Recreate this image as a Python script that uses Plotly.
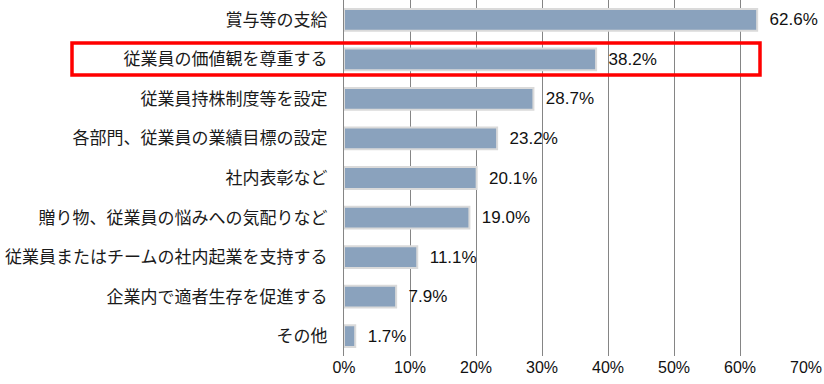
import plotly.graph_objects as go

categories = [
    "賞与等の支給",
    "従業員の価値観を尊重する",
    "従業員持株制度等を設定",
    "各部門、従業員の業績目標の設定",
    "社内表彰など",
    "贈り物、従業員の悩みへの気配りなど",
    "従業員またはチームの社内起業を支持する",
    "企業内で適者生存を促進する",
    "その他",
]
values = [62.6, 38.2, 28.7, 23.2, 20.1, 19.0, 11.1, 7.9, 1.7]
tick_vals = [0, 10, 20, 30, 40, 50, 60, 70]
tick_text = ["0%", "10%", "20%", "30%", "40%", "50%", "60%", "70%"]

fig = go.Figure(
    go.Bar(
        x=values,
        y=categories,
        orientation="h",
        marker=dict(color="#8AA2BD", line=dict(color="#DADADA", width=2)),
        width=0.55,
        text=[f"  {v:.1f}%" for v in values],
        textposition="outside",
        textfont=dict(family="Liberation Sans, Arial, sans-serif", size=17, color="#111111"),
        cliponaxis=False,
        hoverinfo="skip",
    )
)

fig.add_shape(
    type="rect",
    xref="paper", yref="paper",
    x0=(72 - 344) / 462, x1=(760 - 344) / 462,
    y0=1 - 75 / 356, y1=1 - 43 / 356,
    line=dict(color="#FF0000", width=3.5),
    fillcolor="rgba(0,0,0,0)",
)

fig.update_layout(
    width=824, height=384,
    margin=dict(l=344, r=18, t=0, b=28),
    plot_bgcolor="white", paper_bgcolor="white",
    showlegend=False,
    bargap=0.45,
)
fig.update_xaxes(
    range=[0, 70],
    tickvals=tick_vals, ticktext=tick_text,
    showgrid=True, gridcolor="#858585", gridwidth=1,
    zeroline=False,
    showline=False,
    tickfont=dict(family="Liberation Sans, Arial, sans-serif", size=16, color="#111111"),
    fixedrange=True,
)
fig.update_yaxes(
    autorange="reversed",
    showline=True, linecolor="#858585", linewidth=1,
    showgrid=False,
    ticks="",
    ticklabelstandoff=12,
    tickfont=dict(family="Noto Sans CJK JP, sans-serif", size=17, color="#1A1A1A"),
    fixedrange=True,
)

fig.write_html(
    "out.html",
    config={"displayModeBar": False, "staticPlot": True},
    post_script="document.body.style.margin='0';document.body.style.overflow='hidden';",
)
